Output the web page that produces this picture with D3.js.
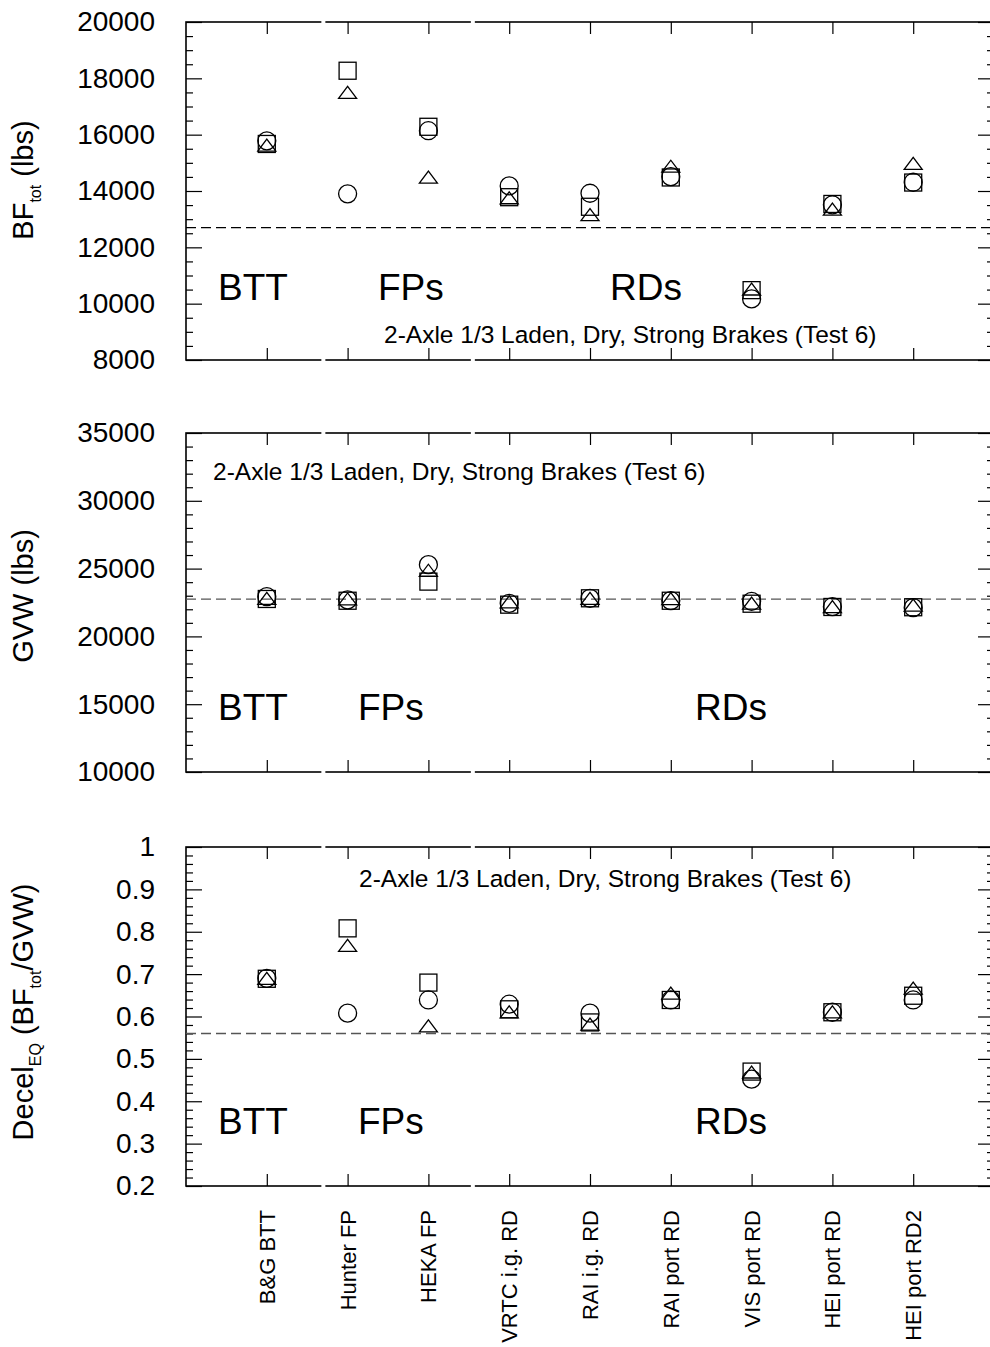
<!DOCTYPE html>
<html><head><meta charset="utf-8">
<script src="https://cdn.jsdelivr.net/npm/d3@7"></script>
<style>body{margin:0;background:#fff}svg{display:block}text{font-family:"Liberation Sans",Arial,sans-serif;fill:#000}</style>
</head><body>
<svg id="chart" width="990" height="1347"></svg>
<script>
const categories = ["B&G BTT","Hunter FP","HEKA FP","VRTC i.g. RD","RAI i.g. RD","RAI port RD","VIS port RD","HEI port RD","HEI port RD2"];

const bfSquare   = [15670, 18270, 16280, 13780, 13440, 14480, 10480, 13540, 14300];
const bfTriangle = [15630, 17500, 14490, 13760, 13160, 14880, 10520, 13360, 14980];
const bfCircle   = [15780, 13900, 16140, 14180, 13920, 14510, 10170, 13510, 14310];

const gvwSquare   = [22760, 22630, 24040, 22340, 22810, 22630, 22410, 22170, 22150];
const gvwTriangle = [22810, 22760, 24880, 22540, 22800, 22780, 22460, 22190, 22310];
const gvwCircle   = [22930, 22690, 25290, 22440, 22800, 22640, 22590, 22190, 22120];

const decSquare   = [0.689, 0.808, 0.680, 0.617, 0.586, 0.639, 0.470, 0.610, 0.649];
const decTriangle = [0.690, 0.768, 0.578, 0.611, 0.582, 0.655, 0.469, 0.611, 0.667];
const decCircle   = [0.690, 0.608, 0.639, 0.629, 0.608, 0.639, 0.452, 0.610, 0.639];

const bfTicks  = [8000, 10000, 12000, 14000, 16000, 18000, 20000];
const gvwTicks = [10000, 15000, 20000, 25000, 30000, 35000];
const decTicks = [0.2, 0.3, 0.4, 0.5, 0.6, 0.7, 0.8, 0.9, 1];

const groupLabels = ["BTT", "FPs", "RDs"];
const note = "2-Axle 1/3 Laden, Dry, Strong Brakes (Test 6)";
const separators = [1.7, 3.55];

const svg = d3.select("#chart");
const x = d3.scaleLinear().domain([0, 10]).range([186, 994]);

const panels = [
  {top:22, bottom:360, domain:[8000,20000], ticks:bfTicks, minorStep:500,
   series:[bfSquare,bfTriangle,bfCircle], ref:12700, refColor:"#000",
   fmt:d3.format("d"), groups:[[218,300],[378,300],[610,300]],
   note:[384,343], title:"bf", titleY:180},
  {top:433, bottom:772, domain:[10000,35000], ticks:gvwTicks, minorStep:1000,
   series:[gvwSquare,gvwTriangle,gvwCircle], ref:22750, refColor:"#555",
   fmt:d3.format("d"), groups:[[218,720],[358,720],[695,720]],
   note:[213,480], title:"gvw", titleY:596},
  {top:847, bottom:1186, domain:[0.2,1], ticks:decTicks, minorStep:0.02,
   series:[decSquare,decTriangle,decCircle], ref:0.56, refColor:"#555",
   fmt:d=>d===1?"1":d3.format(".1f")(d), groups:[[218,1134],[358,1134],[695,1134]],
   note:[359,887], title:"dec", titleY:1012}
];

const idx = categories.map((c,i)=>i+1);

panels.forEach(p => {
  const y = d3.scaleLinear().domain(p.domain).range([p.bottom, p.top]);
  const g = svg.append("g");
  const minors = d3.range(p.domain[0], p.domain[1] + p.minorStep/2, p.minorStep)
      .filter(v => !p.ticks.some(t => Math.abs(t - v) < p.minorStep/10));

  const la = g.append("g").attr("transform", `translate(${x(0)},0)`);
  la.call(d3.axisLeft(y).tickValues(p.ticks).tickSize(-16).tickPadding(31).tickFormat(p.fmt));
  la.append("g").call(d3.axisLeft(y).tickValues(minors).tickSize(-7).tickFormat(""));
  const ra = g.append("g").attr("transform", `translate(${x(10)},0)`);
  ra.call(d3.axisRight(y).tickValues(p.ticks).tickSize(-16).tickFormat(""));
  ra.append("g").call(d3.axisRight(y).tickValues(minors).tickSize(-7).tickFormat(""));
  g.append("g").attr("transform", `translate(0,${p.top})`)
    .call(d3.axisTop(x).tickValues(idx).tickSize(-12).tickFormat(""));
  g.append("g").attr("transform", `translate(0,${p.bottom})`)
    .call(d3.axisBottom(x).tickValues(idx).tickSize(-12).tickFormat(""));
  g.selectAll(".domain").remove();
  g.selectAll(".tick line").attr("stroke", "#000").attr("stroke-width", 1.2);
  la.selectAll(".tick text").attr("font-size", 28).attr("font-family", '"Liberation Sans",Arial,sans-serif').attr("fill","#000");

  g.append("rect").attr("x", x(0)).attr("y", p.top).attr("width", x(10)-x(0)).attr("height", p.bottom-p.top)
    .attr("fill", "none").attr("stroke", "#000").attr("stroke-width", 1.6);
  separators.forEach(s => {
    [p.top, p.bottom].forEach(yy => {
      g.append("rect").attr("x", x(s)-2).attr("y", yy-2).attr("width", 4).attr("height", 4).attr("fill", "#fff");
    });
  });

  g.append("line").attr("x1", x(0)).attr("x2", x(10)).attr("y1", y(p.ref)).attr("y2", y(p.ref))
    .attr("stroke", p.refColor).attr("stroke-width", 1.4).attr("stroke-dasharray", "10,5");

  const [sq, tr, ci] = p.series;
  const mk = g.append("g").attr("fill", "none").attr("stroke", "#000").attr("stroke-width", 1.3);
  mk.selectAll(".sq").data(sq).join("rect")
    .attr("x", (d,i)=>x(i+1)-8.5).attr("y", d=>y(d)-8.5).attr("width", 17).attr("height", 17);
  mk.selectAll(".tr").data(tr).join("path")
    .attr("d", (d,i)=>{const cx=x(i+1), cy=y(d); return `M${cx-9},${cy+6}L${cx+9},${cy+6}L${cx},${cy-6}Z`;});
  mk.selectAll(".ci").data(ci).join("circle")
    .attr("cx", (d,i)=>x(i+1)).attr("cy", d=>y(d)).attr("r", 9);

  p.groups.forEach((gp,i) => {
    g.append("text").attr("x", gp[0]).attr("y", gp[1]).attr("font-size", 37).text(groupLabels[i]);
  });
  g.append("text").attr("x", p.note[0]).attr("y", p.note[1]).attr("font-size", 24.5).text(note);

  const t = g.append("text").attr("transform", `translate(33,${p.titleY}) rotate(-90)`)
    .attr("text-anchor", "middle").attr("font-size", 29);
  if (p.title === "bf") {
    t.append("tspan").text("BF");
    t.append("tspan").attr("font-size", 16).attr("dy", 8).text("tot");
    t.append("tspan").attr("dy", -8).text(" (lbs)");
  } else if (p.title === "gvw") {
    t.text("GVW (lbs)");
  } else {
    t.append("tspan").text("Decel");
    t.append("tspan").attr("font-size", 16).attr("dy", 8).text("EQ");
    t.append("tspan").attr("dy", -8).text(" (BF");
    t.append("tspan").attr("font-size", 16).attr("dy", 8).text("tot");
    t.append("tspan").attr("dy", -8).text("/GVW)");
  }
});

svg.append("g").selectAll("text").data(categories).join("text")
  .attr("transform", (d,i)=>`translate(${x(i+1)+8},1210) rotate(-90)`)
  .attr("text-anchor", "end").attr("font-size", 22).text(d=>d);
</script>
</body></html>
